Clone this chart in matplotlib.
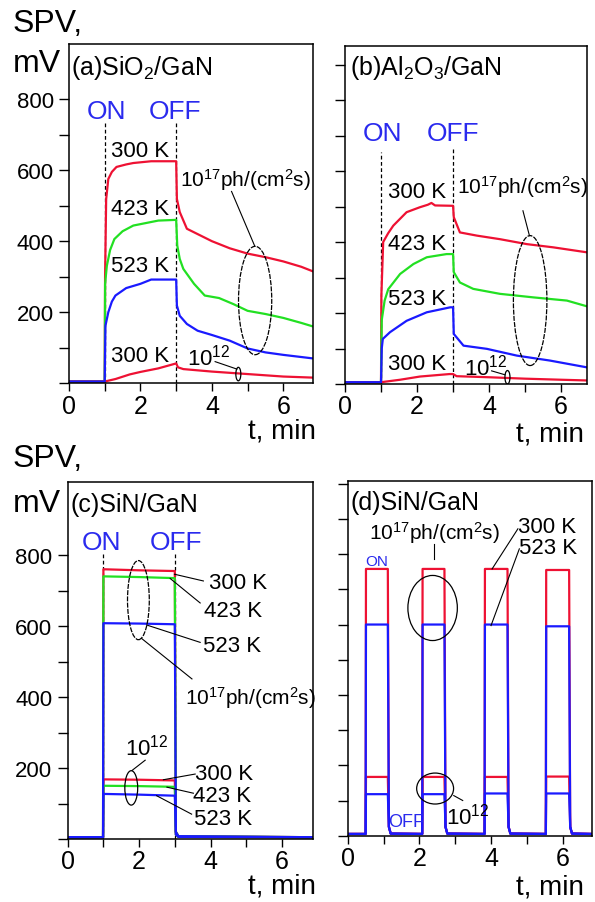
import matplotlib
matplotlib.use("Agg")
import matplotlib.pyplot as plt
from matplotlib.patches import Ellipse
from matplotlib.ticker import MultipleLocator, FixedLocator, NullFormatter

plt.rcParams['font.family'] = ['Liberation Sans', 'DejaVu Sans']
plt.rcParams['mathtext.fontset'] = 'custom'
plt.rcParams['mathtext.rm'] = 'Liberation Sans'
plt.rcParams['mathtext.it'] = 'Liberation Sans:italic'
plt.rcParams['mathtext.bf'] = 'Liberation Sans:bold'

RED = '#ee1133'
GREEN = '#22e022'
BLUE = '#1a1aff'
TXTBLUE = '#2a2aee'

# ---- panel (a) SiO2/GaN ----
a_t_300 = [0, 1.0, 1.01, 1.04, 1.1, 1.2, 1.33, 1.6, 1.8, 2.3, 3.0, 3.02, 3.1, 3.3, 3.6, 4.0, 4.5, 5.0, 5.5, 6.0, 6.5, 6.83]
a_v_300 = [5, 5, 300, 518, 575, 595, 609, 616, 620, 625, 625, 519, 482, 435, 420, 400, 380, 365, 355, 343, 328, 315]
a_t_423 = [0, 1.0, 1.01, 1.06, 1.15, 1.27, 1.5, 1.8, 2.2, 2.5, 3.0, 3.03, 3.1, 3.2, 3.5, 3.8, 4.2, 4.6, 5.0, 5.5, 6.0, 6.5, 6.83]
a_v_423 = [5, 5, 280, 331, 375, 406, 428, 444, 452, 458, 460, 388, 350, 322, 280, 247, 240, 223, 204, 195, 184, 170, 160]
a_t_523 = [0, 1.0, 1.02, 1.1, 1.2, 1.3, 1.6, 2.0, 2.3, 3.0, 3.02, 3.1, 3.3, 3.6, 4.0, 4.5, 5.0, 5.5, 6.0, 6.5, 6.83]
a_v_523 = [5, 5, 162, 200, 230, 247, 268, 280, 292, 292, 219, 190, 167, 148, 136, 120, 98, 87, 80, 74, 70]
a_t_low = [0, 1.0, 1.3, 1.7, 2.0, 2.5, 3.0, 3.05, 3.2, 4.0, 5.0, 6.0, 6.83]
a_v_low = [5, 5, 12, 25, 32, 42, 56, 45, 40, 33, 26, 19, 16]

# ---- panel (b) Al2O3/GaN ----
b_t_300 = [0, 1.0, 1.01, 1.06, 1.2, 1.34, 1.71, 2.08, 2.3, 2.4, 2.5, 3.0, 3.02, 3.19, 3.66, 4.3, 5.05, 5.78, 6.71]
b_v_300 = [5, 5, 250, 400, 425, 446, 484, 498, 505, 510, 503, 502, 470, 427, 418, 408, 394, 385, 371]
b_t_423 = [0, 1.0, 1.02, 1.1, 1.2, 1.53, 1.9, 2.27, 2.82, 3.0, 3.02, 3.19, 3.56, 4.3, 5.23, 6.16, 6.71]
b_v_423 = [5, 5, 180, 235, 267, 310, 338, 357, 366, 366, 315, 286, 268, 254, 244, 235, 219]
b_t_523 = [0, 1.0, 1.02, 1.05, 1.25, 1.71, 2.27, 2.92, 3.0, 3.02, 3.29, 3.94, 4.77, 5.69, 6.71]
b_v_523 = [5, 5, 100, 127, 146, 178, 202, 216, 216, 141, 108, 99, 80, 66, 47]
b_t_low = [0, 1.0, 1.53, 2.08, 2.9, 3.0, 3.1, 4.0, 5.0, 6.0, 6.71]
b_v_low = [5, 5, 12, 21, 28, 28, 22, 19, 15, 12, 10]

# ---- panel (c) SiN/GaN, single pulse ----
c_t = [0, 0.99, 1.0, 2.0, 3.0, 3.03, 3.1, 6.87]
c_hi_300 = [5, 5, 760, 757, 755, 20, 8, 5]
c_hi_423 = [5, 5, 740, 738, 735, 20, 8, 5]
c_hi_523 = [5, 5, 608, 607, 605, 20, 8, 5]
c_lo_300 = [5, 5, 168, 167, 165, 12, 6, 5]
c_lo_423 = [5, 5, 150, 149, 147, 12, 6, 5]
c_lo_523 = [5, 5, 127, 125, 122, 12, 6, 5]

# ---- panel (d) SiN/GaN, repeated pulses ----
d_on = [0.51, 2.09, 3.83, 5.54]
d_off = [1.12, 2.70, 4.46, 6.18]
d_hi_300 = [758, 758, 758, 755]
d_hi_523 = [600, 600, 600, 595]
d_lo_300 = [167, 167, 167, 168]
d_lo_523 = [118, 118, 120, 120]
d_end = 6.81


def pulses(levels):
    t, v = [0], [5]
    for on, off, lev in zip(d_on, d_off, levels):
        t += [on - 0.01, on, off, off + 0.03, off + 0.08]
        v += [5, lev, lev, 25, 6]
    t.append(d_end)
    v.append(5)
    return t, v


def px_axes(l, t, r, b):
    return fig.add_axes([l / 595, 1 - b / 903, (r - l) / 595, (b - t) / 903])


def ftext(x, y, s, **kw):
    fig.text(x / 595, 1 - y / 903, s, va='baseline', **kw)


def style(ax, xmax, ymax, ylabels):
    ax.set_xlim(0, xmax)
    ax.set_ylim(0, ymax)
    ax.xaxis.set_major_locator(FixedLocator([0, 2, 4, 6]))
    ax.xaxis.set_minor_locator(FixedLocator([1, 3, 5]))
    if ylabels:
        ax.yaxis.set_major_locator(FixedLocator([200, 400, 600, 800]))
        ax.yaxis.set_minor_locator(FixedLocator([0, 100, 300, 500, 700]))
    else:
        ax.yaxis.set_major_locator(MultipleLocator(100))
        ax.yaxis.set_major_formatter(NullFormatter())
    ax.tick_params(axis='x', which='both', direction='out', length=5.5, width=1, labelsize=18, pad=2)
    ax.tick_params(axis='y', which='both', direction='out', length=7, width=1, labelsize=16, pad=4)
    for sp in ax.spines.values():
        sp.set_linewidth(1.1)


def ell(ax, x, y, w, h, ls='-'):
    ax.add_patch(Ellipse((x, y), w, h, fill=False, ec='k', lw=0.9, ls=ls, zorder=5))


def lead(ax, p0, p1):
    ax.plot([p0[0], p1[0]], [p0[1], p1[1]], color='k', lw=0.8, zorder=5)


fig = plt.figure(figsize=(5.95, 9.03), dpi=100)

S17 = '10$^{17}$ph/(cm$^{2}$s)'
S12 = '10$^{12}$'
LW = 1.6
FS17 = 15

# (a)
ax = px_axes(69, 45, 313, 384.3)
style(ax, 6.83, 955, True)
ax.plot([1, 1], [0, 736], 'k--', lw=0.9, dashes=(3, 2))
ax.plot([3, 3], [0, 736], 'k--', lw=0.9, dashes=(3, 2))
ax.plot(a_t_300, a_v_300, color=RED, lw=LW)
ax.plot(a_t_423, a_v_423, color=GREEN, lw=LW)
ax.plot(a_t_low, a_v_low, color=RED, lw=LW)
ax.plot(a_t_523, a_v_523, color=BLUE, lw=LW)
ax.text(1.05, 747, 'ON', color=TXTBLUE, size=19, ha='center', va='baseline')
ax.text(2.97, 747, 'OFF', color=TXTBLUE, size=19, ha='center', va='baseline')
for y, s in [(639, '300 K'), (477, '423 K'), (317, '523 K'), (64, '300 K')]:
    ax.text(2.0, y, s, size=16, ha='center', va='baseline')
ax.text(3.12, 557, S17, size=FS17, ha='left', va='baseline')
ax.text(3.3, 54, S12, size=16, ha='left', va='baseline')
ell(ax, 5.21, 233, 0.93, 305, ls=(0, (4, 1)))
lead(ax, (4.55, 540), (5.2, 386))
ell(ax, 4.74, 26, 0.14, 38)
lead(ax, (4.09, 61), (4.7, 40))

# (b)
ax = px_axes(345, 46.7, 586.7, 385)
style(ax, 6.71, 953, False)
ax.plot([1, 1], [0, 653], 'k--', lw=0.9, dashes=(3, 2))
ax.plot([3, 3], [0, 662], 'k--', lw=0.9, dashes=(3, 2))
ax.plot(b_t_300, b_v_300, color=RED, lw=LW)
ax.plot(b_t_423, b_v_423, color=GREEN, lw=LW)
ax.plot(b_t_low, b_v_low, color=RED, lw=LW)
ax.plot(b_t_523, b_v_523, color=BLUE, lw=LW)
ax.text(1.04, 688, 'ON', color=TXTBLUE, size=19, ha='center', va='baseline')
ax.text(2.99, 688, 'OFF', color=TXTBLUE, size=19, ha='center', va='baseline')
for y, s in [(526, '300 K'), (380, '423 K'), (225, '523 K'), (42, '300 K')]:
    ax.text(2.0, y, s, size=16, ha='center', va='baseline')
ax.text(3.1, 540, S17, size=FS17, ha='left', va='baseline')
ax.text(3.29, 28, S12, size=16, ha='left', va='baseline')
ell(ax, 5.14, 235, 0.93, 366, ls=(0, (4, 1)))
lead(ax, (4.94, 488), (5.12, 418))
ell(ax, 4.51, 19, 0.14, 38)
lead(ax, (4.07, 37), (4.44, 26))

# (c)
ax = px_axes(67.7, 483.3, 313, 840)
style(ax, 6.87, 1005, True)
ax.plot([1, 1], [0, 805], 'k--', lw=0.9, dashes=(3, 2))
ax.plot([3, 3], [0, 805], 'k--', lw=0.9, dashes=(3, 2))
ax.plot(c_t, c_hi_300, color=RED, lw=LW)
ax.plot(c_t, c_hi_423, color=GREEN, lw=LW)
ax.plot(c_t, c_lo_300, color=RED, lw=LW)
ax.plot(c_t, c_lo_423, color=GREEN, lw=LW)
ax.plot(c_t, c_lo_523, color=BLUE, lw=LW)
ax.plot(c_t, c_hi_523, color=BLUE, lw=LW)
ax.text(0.94, 816, 'ON', color=TXTBLUE, size=19, ha='center', va='baseline')
ax.text(3.02, 816, 'OFF', color=TXTBLUE, size=19, ha='center', va='baseline')
ax.text(3.97, 706, '300 K', size=16, va='baseline')
ax.text(3.83, 627, '423 K', size=16, va='baseline')
ax.text(3.80, 530, '523 K', size=16, va='baseline')
lead(ax, (2.99, 746), (3.8, 727))
lead(ax, (2.87, 734), (3.71, 665))
lead(ax, (2.21, 603), (3.71, 554))
ell(ax, 1.98, 673, 0.61, 223, ls=(0, (4, 1)))
lead(ax, (2.07, 565), (3.48, 451))
ax.text(3.29, 380, S17, size=FS17, va='baseline')
ax.text(2.21, 239, S12, size=16, ha='center', va='baseline')
ell(ax, 1.78, 144, 0.36, 97)
lead(ax, (1.8, 193), (2.17, 222))
ax.text(3.57, 169, '300 K', size=16, va='baseline')
ax.text(3.52, 108, '423 K', size=16, va='baseline')
ax.text(3.55, 42, '523 K', size=16, va='baseline')
lead(ax, (2.68, 167), (3.57, 183))
lead(ax, (2.78, 146), (3.52, 129))
lead(ax, (2.49, 122), (3.47, 70))

# (d)
ax = px_axes(347.7, 482.3, 591.7, 836.7)
style(ax, d_end, 1007, False)
for lev, col in [(d_hi_300, RED), (d_lo_300, RED), (d_lo_523, BLUE), (d_hi_523, BLUE)]:
    t, v = pulses(lev)
    ax.plot(t, v, color=col, lw=LW)
ax.text(2.41, 843, S17, size=FS17, ha='center', va='baseline')
lead(ax, (2.42, 829), (2.42, 787))
ell(ax, 2.37, 647, 1.38, 185)
ax.text(4.75, 862, '300 K', size=16, va='baseline')
ax.text(4.79, 804, '523 K', size=16, va='baseline')
lead(ax, (4.75, 872), (4.03, 758))
lead(ax, (4.79, 815), (4.0, 597))
ax.text(0.82, 770, 'ON', color=TXTBLUE, size=11, ha='center', va='baseline')
ax.text(1.64, 28, 'OFF', color=TXTBLUE, size=13, ha='center', va='baseline')
ax.text(2.75, 36, S12, size=16, va='baseline')
ell(ax, 2.44, 134, 1.03, 88)
lead(ax, (2.96, 114), (3.21, 100))

# panel titles, axis labels
ftext(71, 75, '(a)SiO$_{2}$/GaN', size=18)
ftext(350, 75, '(b)Al$_{2}$O$_{3}$/GaN', size=18)
ftext(71, 511.7, '(c)SiN/GaN', size=18)
ftext(351, 510, '(d)SiN/GaN', size=18)
for y0 in (31.7, 466.7):
    ftext(13, y0, 'SPV,', size=23)
for y0 in (71.7, 511.7):
    ftext(13, y0, 'mV', size=23)
ftext(316, 438, 't, min', size=20, ha='right')
ftext(584, 442, 't, min', size=20, ha='right')
ftext(316, 894, 't, min', size=20, ha='right')
ftext(584, 895, 't, min', size=20, ha='right')

fig.savefig('out.png', dpi=100)
